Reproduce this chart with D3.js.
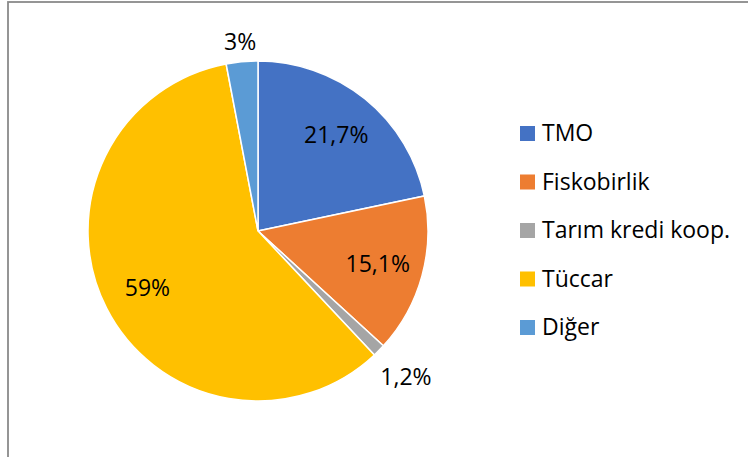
<!DOCTYPE html>
<html>
<head>
<meta charset="utf-8">
<script src="https://cdn.jsdelivr.net/npm/d3@7"></script>
<style>
body { margin: 0; background: #fff; }
svg { display: block; }
</style>
</head>
<body>
<script>
var categories = ["TMO", "Fiskobirlik", "Tarım kredi koop.", "Tüccar", "Diğer"];
var values = [21.7, 15.1, 1.2, 59, 3];
var labels = ["21,7%", "15,1%", "1,2%", "59%", "3%"];
var colors = ["#4472C4", "#ED7D31", "#A5A5A5", "#FFC000", "#5B9BD5"];

var width = 748, height = 457;
var cx = 258, cy = 231, r = 170;

var svg = d3.select("body").append("svg")
	.attr("width", width)
	.attr("height", height);

// chart frame (only top and left edges show)
svg.append("rect")
	.attr("x", 8)
	.attr("y", 2)
	.attr("width", width + 20)
	.attr("height", height + 20)
	.attr("fill", "none")
	.attr("stroke", "#8a8a8a")
	.attr("stroke-width", 1.8);

var data = categories.map(function(c, i){
	return {name: c, value: values[i], label: labels[i], color: colors[i]};
});

var pie = d3.pie().sort(null).value(function(d){ return d.value; });
var arc = d3.arc().innerRadius(0).outerRadius(r);
var arcs = pie(data);

var g = svg.append("g").attr("transform", "translate(" + cx + "," + cy + ")");

g.selectAll("path")
	.data(arcs)
	.enter()
	.append("path")
	.attr("d", arc)
	.attr("fill", function(d){ return d.data.color; })
	.attr("stroke", "#fff")
	.attr("stroke-width", 1.5);

// small slices get their label outside
function labelRadius(d){
	var share = d.data.value;
	if (share < 2) return r + 38;
	if (share < 5) return r + 20;
	return r * 0.73;
}

g.selectAll("text.lbl")
	.data(arcs)
	.enter()
	.append("text")
	.attr("class", "lbl")
	.attr("x", function(d){
		var a = (d.startAngle + d.endAngle) / 2;
		return labelRadius(d) * Math.sin(a);
	})
	.attr("y", function(d){
		var a = (d.startAngle + d.endAngle) / 2;
		return -labelRadius(d) * Math.cos(a);
	})
	.attr("text-anchor", "middle")
	.attr("dy", "0.36em")
	.attr("font-family", "'Open Sans', sans-serif")
	.attr("font-size", 23)
	.attr("fill", "#000")
	.text(function(d){ return d.data.label; });

// legend
var legend = svg.append("g");
var rowY = d3.scalePoint().domain(categories).range([133, 327]);

var items = legend.selectAll("g")
	.data(data)
	.enter()
	.append("g")
	.attr("transform", function(d){ return "translate(520," + rowY(d.name) + ")"; });

items.append("rect")
	.attr("x", 0)
	.attr("y", -7)
	.attr("width", 15)
	.attr("height", 15)
	.attr("fill", function(d){ return d.color; });

items.append("text")
	.attr("x", 22)
	.attr("y", 0)
	.attr("dy", "0.36em")
	.attr("font-family", "'Open Sans', sans-serif")
	.attr("font-size", 23)
	.attr("fill", "#000")
	.text(function(d){ return d.name; });
</script>
</body>
</html>
